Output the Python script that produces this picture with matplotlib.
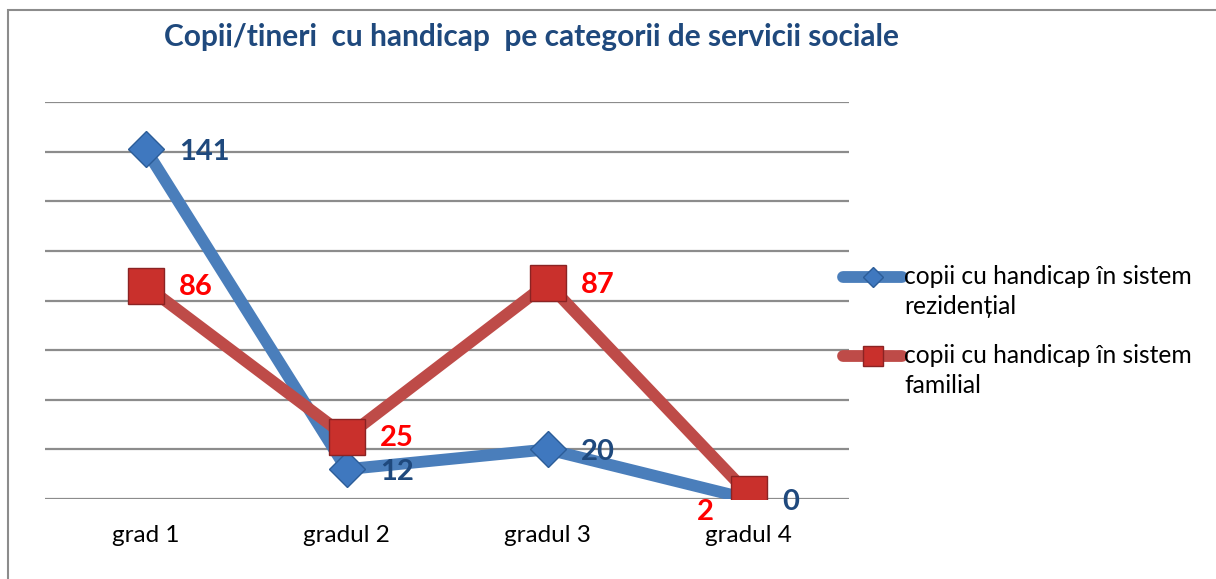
import matplotlib.pyplot as plt
from matplotlib.patches import Rectangle
from matplotlib.legend_handler import HandlerLine2D

plt.rcParams['font.family'] = ['Lato', 'DejaVu Sans']

categories = ["grad 1", "gradul 2", "gradul 3", "gradul 4"]
rezidential = [141, 12, 20, 0]
familial = [86, 25, 87, 2]
label_rez = "copii cu handicap în sistem\nrezidențial"
label_fam = "copii cu handicap în sistem\nfamilial"

BLUE = "#4A7EBB"
RED = "#BE4B48"
DARK_BLUE = "#1F497D"
GRID = "#8C8C8C"


class FirstLineHandler(HandlerLine2D):
    # put the legend handle beside the first line of a two-line label
    def create_artists(self, legend, orig_handle, xdescent, ydescent,
                       width, height, fontsize, trans):
        artists = super().create_artists(legend, orig_handle, xdescent, ydescent,
                                          width, height, fontsize, trans)
        for a in artists:
            a.set_ydata([y + 0.62 * fontsize for y in a.get_ydata()])
        return artists


fig = plt.figure(figsize=(12.16, 5.79), dpi=100)
ax = fig.add_axes([45 / 1216, 1 - 499 / 579, 804 / 1216, 397 / 579])

x = list(range(len(categories)))
l1, = ax.plot(x, rezidential, color=BLUE, lw=8.5, marker='D', ms=18.5,
              mfc="#3F78BF", mec="#2C5D98", mew=1, label=label_rez, zorder=3,
              solid_joinstyle='miter', solid_capstyle='round')
l2, = ax.plot(x, familial, color=RED, lw=8.5, marker='s', ms=26,
              mfc="#C9302C", mec="#8B2323", mew=1, label=label_fam, zorder=4,
              solid_joinstyle='miter', solid_capstyle='round')

for i, v in enumerate(rezidential):
    ax.annotate(str(v), (i, v), xytext=(24, -2), textcoords='offset points',
                ha='left', va='center', fontsize=21, fontweight='bold',
                color=DARK_BLUE, zorder=6)
for i, v in enumerate(familial):
    if i == 3:
        off, ha = (-25, -13), 'right'
    else:
        off, ha = (24, -1), 'left'
    ax.annotate(str(v), (i, v), xytext=off, textcoords='offset points',
                ha=ha, va='center', fontsize=21, fontweight='bold',
                color='#FF0000', zorder=6)

ax.set_xlim(-0.5, 3.5)
ax.set_ylim(0, 160)
ax.set_yticks(range(0, 161, 20))
ax.yaxis.grid(True, color=GRID, lw=1.6)
ax.set_axisbelow(True)
ax.tick_params(axis='y', left=False, labelleft=False)
ax.tick_params(axis='x', bottom=False, labelsize=17.5, pad=15)
ax.set_xticks(x)
ax.set_xticklabels(categories)
for s in ax.spines.values():
    s.set_visible(False)

fig.text(531 / 1216, 1 - 37 / 579, "Copii/tineri  cu handicap  pe categorii de servicii sociale",
         ha='center', va='center', fontsize=21.5, fontweight='bold', color=DARK_BLUE)

hmap = {l1: FirstLineHandler(), l2: FirstLineHandler()}
leg = ax.legend(handler_map=hmap, loc='upper left',
                bbox_to_anchor=(843 / 1216, 1 - 265 / 579),
                bbox_transform=fig.transFigure, frameon=False, fontsize=17.7,
                handlelength=2.4, handletextpad=0.1, labelspacing=1.05,
                borderaxespad=0, borderpad=0, markerscale=0.55)
for t in leg.get_texts():
    t.set_linespacing(1.38)

fig.add_artist(Rectangle((8 / 1216, -0.1), 1.2, 1.1 - 10 / 579,
                         transform=fig.transFigure, fill=False,
                         edgecolor="#8C8C8C", lw=1.5))

fig.savefig("out.png", dpi=100)
